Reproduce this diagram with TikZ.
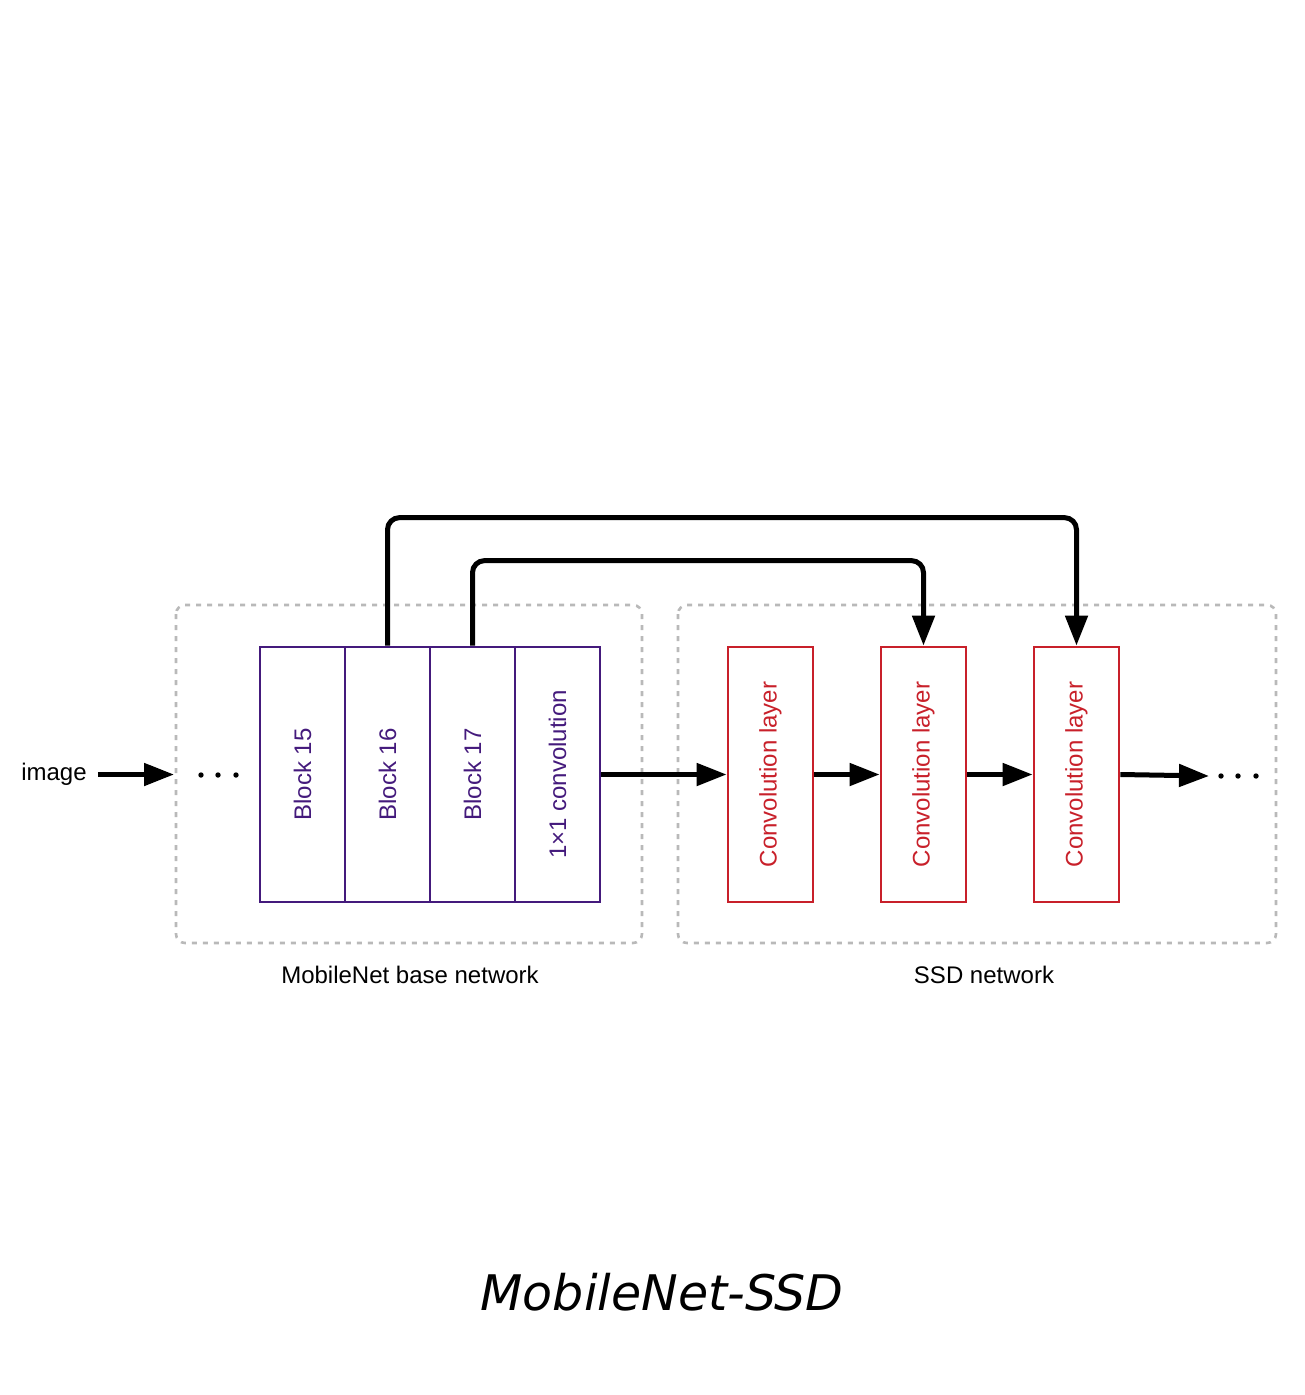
\documentclass[tikz,border=0pt]{standalone}
\usepackage{fontspec}
\setmainfont{Liberation Sans}
\newfontfamily\titlefont{DejaVu Sans}
\usetikzlibrary{arrows.meta}
\definecolor{mnpurple}{RGB}{68,26,124}
\definecolor{ssdred}{RGB}{200,32,42}
\definecolor{dashgray}{RGB}{185,185,185}
\tikzset{
  base/.style={font=\fontsize{24}{28}\selectfont},
  blk/.style={base, draw=mnpurple, text=mnpurple, line width=2.8pt, minimum width=85pt, minimum height=255pt, inner sep=0pt},
  convbox/.style={base, draw=ssdred, text=ssdred, line width=2.8pt, minimum width=85pt, minimum height=255pt, inner sep=0pt},
  group/.style={draw=dashgray, line width=2.6pt, dash pattern=on 5pt off 6pt, rounded corners=9pt},
  conn/.style={line width=5pt, -{Triangle[length=30pt,width=22pt]}, rounded corners=12pt},
  lbl/.style={base, inner sep=0pt},
  dotmark/.style={fill=black, draw=none},
}
\begin{document}
\begin{tikzpicture}[x=1pt,y=-1pt]
\useasboundingbox (0,0) rectangle (1304,1395);
% groups
\draw[group] (176,605) rectangle (642,943);
\draw[group] (678,605) rectangle (1276,943);
% base network blocks
\node[blk] (b15) at (302.5,774.5) {\rotatebox{90}{Block 15}};
\node[blk] (b16) at (387.5,774.5) {\rotatebox{90}{Block 16}};
\node[blk] (b17) at (472.5,774.5) {\rotatebox{90}{Block 17}};
\node[blk] (b18) at (557.5,774.5) {\rotatebox{90}{1×1 convolution}};
% ssd layers
\node[convbox] (c1) at (770.5,774.5) {\rotatebox{90}{Convolution layer}};
\node[convbox] (c2) at (923.5,774.5) {\rotatebox{90}{Convolution layer}};
\node[convbox] (c3) at (1076.5,774.5) {\rotatebox{90}{Convolution layer}};
% labels
\node[lbl] (img) at (54,774.5) {image};
\node[lbl] (lb1) at (410,975) {MobileNet base network};
\node[lbl] (lb2) at (984,975) {SSD network};
\node[inner sep=0pt] (title) at (662,1292) {\resizebox{363pt}{!}{\titlefont\itshape MobileNet-SSD}};
% dots
\foreach \x in {201,218,236} \fill[dotmark] (\x,775) circle (2.7);
\foreach \x in {1221,1238,1256} \fill[dotmark] (\x,776) circle (2.7);
% connectors
\coordinate (inend) at (174,774.5);
\coordinate (outend) at (1209,776);
\draw[conn] ([xshift=11pt]img.east) -- (inend);
\draw[conn] (b18.east) -- (c1.west);
\draw[conn] (c1.east) -- (c2.west);
\draw[conn] (c2.east) -- (c3.west);
\draw[conn] (c3.east) -- (outend);
\draw[conn] (b16.north) -- ++(0,-128) -| (c3.north);
\draw[conn] (b17.north) -- ++(0,-85) -| (c2.north);
\end{tikzpicture}
\end{document}
